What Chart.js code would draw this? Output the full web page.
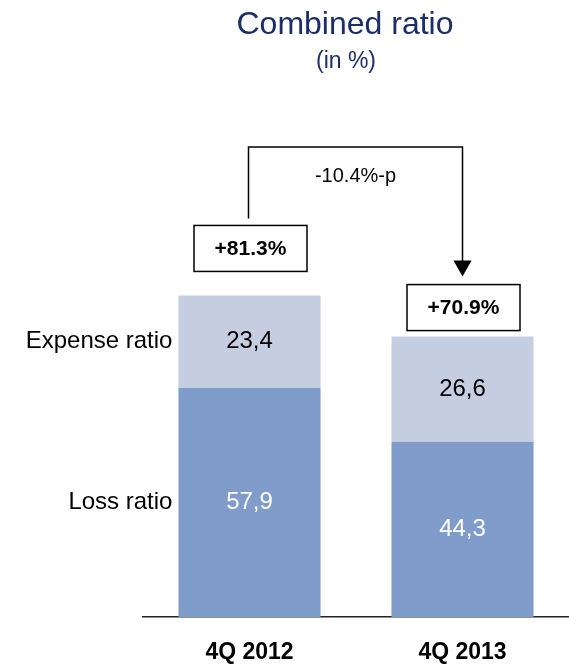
<!DOCTYPE html>
<html>
<head>
<meta charset="utf-8">
<script src="https://cdn.jsdelivr.net/npm/chart.js@4.4.0/dist/chart.umd.min.js"></script>
<style>
    html, body { margin: 0; padding: 0; background: #ffffff; }
    #chart_wrap { position: relative; width: 569px; height: 665px; }
</style>
</head>
<body>
<div id="chart_wrap"><canvas id="combined_ratio_chart"></canvas></div>
<script>
// 四半期(横軸のラベル)
const quarters = ['4Q 2012', '4Q 2013'];
// 系列名
const series_names = ['Loss ratio', 'Expense ratio'];
// 損害率
const loss_ratio = [57.9, 44.3];
// 事業費率
const expense_ratio = [23.4, 26.6];

const FONT = "'Liberation Sans', Arial, Helvetica, sans-serif";

// 小数点をカンマにして表示
function formatValue(v) {
    return v.toFixed(1).replace('.', ',');
}

// 数値・合計ボックス・矢印を描画するプラグイン
const ratioLabelsPlugin = {
    id: 'ratioLabels',
    afterDatasetsDraw(chart) {
        const ctx = chart.ctx;
        const loss_bars = chart.getDatasetMeta(0).data;
        const expense_bars = chart.getDatasetMeta(1).data;
        ctx.save();

        // タイトル
        ctx.fillStyle = '#1b2e6b';
        ctx.textAlign = 'center';
        ctx.textBaseline = 'alphabetic';
        ctx.font = '32px ' + FONT;
        ctx.fillText('Combined ratio', 345, 34);
        ctx.font = '23px ' + FONT;
        ctx.fillText('(in %)', 346, 68);

        // 各セグメントの数値
        ctx.textBaseline = 'middle';
        ctx.font = '24px ' + FONT;
        loss_bars.forEach(function(bar, i) {
            ctx.fillStyle = '#ffffff';
            ctx.fillText(formatValue(loss_ratio[i]), bar.x, (bar.y + bar.base) / 2);
        });
        expense_bars.forEach(function(bar, i) {
            ctx.fillStyle = '#000000';
            ctx.fillText(formatValue(expense_ratio[i]), bar.x, (bar.y + bar.base) / 2);
        });

        // 左側の系列名
        ctx.textAlign = 'right';
        ctx.fillStyle = '#000000';
        const first_loss = loss_bars[0];
        const first_exp = expense_bars[0];
        const label_x = first_loss.x - first_loss.width / 2 - 6;
        ctx.fillText(series_names[0], label_x, (first_loss.y + first_loss.base) / 2);
        ctx.fillText(series_names[1], label_x, (first_exp.y + first_exp.base) / 2);

        // 合計ボックス
        const box_gaps = [24, 6];
        const box_w = 113;
        const box_h = 46;
        const boxes = [];
        ctx.textAlign = 'center';
        ctx.font = 'bold 21px ' + FONT;
        ctx.lineWidth = 1.5;
        ctx.strokeStyle = '#000000';
        expense_bars.forEach(function(bar, i) {
            const total = loss_ratio[i] + expense_ratio[i];
            const cx = bar.x + 1;
            const bottom = bar.y - box_gaps[i];
            const top = bottom - box_h;
            ctx.fillStyle = '#ffffff';
            ctx.fillRect(cx - box_w / 2, top, box_w, box_h);
            ctx.strokeRect(cx - box_w / 2, top, box_w, box_h);
            ctx.fillStyle = '#000000';
            ctx.fillText('+' + total.toFixed(1) + '%', cx, top + box_h / 2 + 1);
            boxes.push({ cx: cx, top: top });
        });

        // 差分の矢印
        const line_y = 147;
        const x1 = boxes[0].cx - 2;
        const x2 = boxes[1].cx - 1;
        const tip_y = boxes[1].top - 8;
        ctx.beginPath();
        ctx.moveTo(x1, boxes[0].top - 7);
        ctx.lineTo(x1, line_y);
        ctx.lineTo(x2, line_y);
        ctx.lineTo(x2, tip_y - 15);
        ctx.stroke();
        ctx.beginPath();
        ctx.moveTo(x2 - 9, tip_y - 16);
        ctx.lineTo(x2 + 9, tip_y - 16);
        ctx.lineTo(x2, tip_y);
        ctx.closePath();
        ctx.fillStyle = '#000000';
        ctx.fill();

        // 差分テキスト
        const diff = (loss_ratio[1] + expense_ratio[1]) - (loss_ratio[0] + expense_ratio[0]);
        ctx.font = '20px ' + FONT;
        ctx.fillText(diff.toFixed(1) + '%-p', (x1 + x2) / 2, 176);

        ctx.restore();
    }
};

const chart_ctx = document.getElementById('combined_ratio_chart').getContext('2d');
const combined_ratio_chart = new Chart(chart_ctx, {
    type: 'bar',
    data: {
        labels: quarters,
        datasets: [
            {
                label: series_names[0],
                data: loss_ratio,
                backgroundColor: '#7f9ccb',
                barPercentage: 0.667,
                categoryPercentage: 1.0,
            },
            {
                label: series_names[1],
                data: expense_ratio,
                backgroundColor: '#c5cde0',
                barPercentage: 0.667,
                categoryPercentage: 1.0,
            },
        ]
    },
    options: {
        responsive: true,
        maintainAspectRatio: false,
        animation: false,
        layout: {
            padding: { left: 143, right: 0, top: 0, bottom: 0 }
        },
        scales: {
            x: {
                stacked: true,
                grid: { display: false, drawTicks: false },
                border: { display: true, color: '#222222', width: 1.5 },
                ticks: {
                    color: '#000000',
                    padding: 22,
                    font: { family: FONT, size: 23, weight: 'bold' }
                },
                afterFit: function(scale) {
                    scale.height = 48;
                }
            },
            y: {
                stacked: true,
                display: false,
                min: 0,
                max: 156
            }
        },
        plugins: {
            legend: { display: false },
            tooltip: { enabled: false }
        }
    },
    plugins: [ratioLabelsPlugin]
});
</script>
</body>
</html>
